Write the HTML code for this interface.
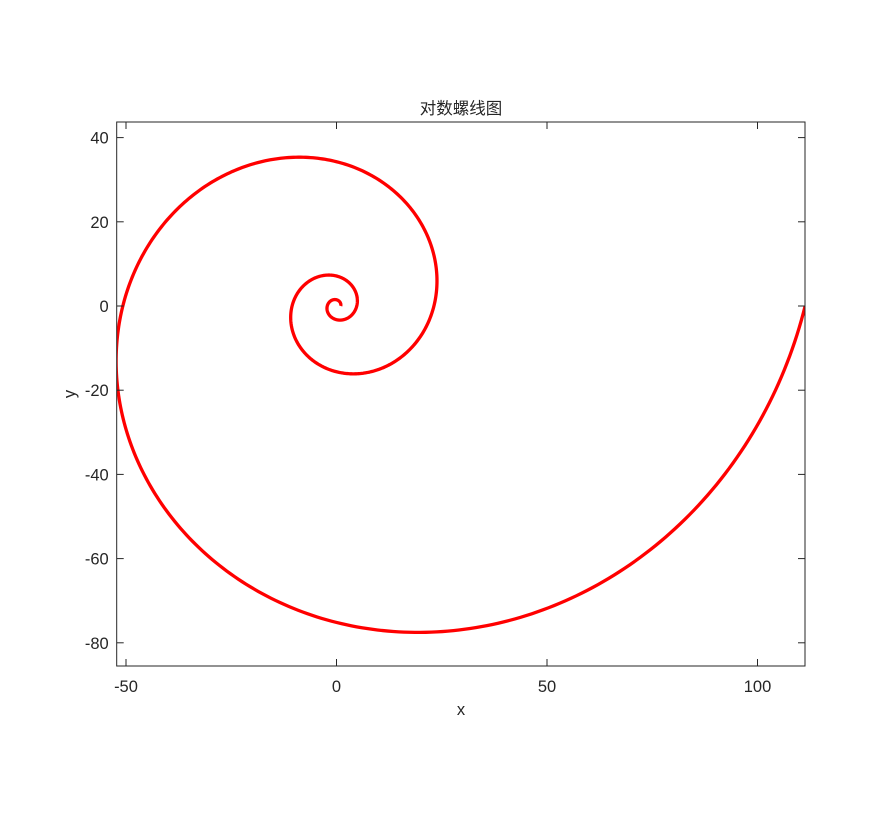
<!DOCTYPE html>
<html><head><meta charset="utf-8"><style>
body{margin:0;background:#fff}
svg text{font-family:"Liberation Sans","Noto Sans CJK SC",sans-serif;fill:#262626}
</style></head><body>
<svg id="chart" width="889" height="818">
<defs><clipPath id="clip"><rect x="116.7" y="122" width="688.8" height="544"/></clipPath></defs>
<rect width="889" height="818" fill="#fff"/>
<g id="g"></g>
</svg>
<script>
const xTicks=[-50,0,50,100];
const yTicks=[-80,-60,-40,-20,0,20,40];
const spiralA=[1];
const spiralB=[0.25];
const thetaRange=[0,6*Math.PI];
const X0=116.7,X1=805,Y0=122,Y1=666;
const sx=v=>336.5+v*4.21;
const sy=v=>306+v*(-4.21);
const NS='http://www.w3.org/2000/svg';
const g=document.getElementById('g');
function mk(t,a){const e=document.createElementNS(NS,t);for(const k in a)e.setAttribute(k,a[k]);g.appendChild(e);return e;}
let pts=[];
for(let i=0;i<=1200;i++){const th=thetaRange[0]+(thetaRange[1]-thetaRange[0])*i/1200;const r=spiralA[0]*Math.exp(spiralB[0]*th);pts.push(sx(r*Math.cos(th)).toFixed(2)+','+sy(r*Math.sin(th)).toFixed(2));}
const line=mk('polyline',{points:pts.join(' '),fill:'none',stroke:'#ff0000','stroke-width':3.3,'stroke-linejoin':'round','clip-path':'url(#clip)'});


const box=mk('rect',{x:X0,y:Y0,width:X1-X0,height:Y1-Y0,fill:'none',stroke:'#262626','stroke-width':1});


xTicks.forEach(v=>{const x=sx(v);
mk('line',{x1:x,x2:x,y1:Y1,y2:Y1-7,stroke:'#262626'});
mk('line',{x1:x,x2:x,y1:Y0,y2:Y0+7,stroke:'#262626'});
const t=mk('text',{x:x,y:Y1+26,'text-anchor':'middle','font-size':16.5});t.textContent=v;

});
yTicks.forEach(v=>{const y=sy(v);
mk('line',{x1:X0,x2:X0+7,y1:y,y2:y,stroke:'#262626'});
mk('line',{x1:X1,x2:X1-7,y1:y,y2:y,stroke:'#262626'});
const t=mk('text',{x:X0-8,y:y+6,'text-anchor':'end','font-size':16.5});t.textContent=v;

});
const tt=mk('text',{x:461,y:114,'text-anchor':'middle','font-size':16.5});tt.textContent='对数螺线图';


const xl=mk('text',{x:461,y:715,'text-anchor':'middle','font-size':16.5});xl.textContent='x';


const yl=mk('text',{x:75,y:394,'text-anchor':'middle','font-size':16.5,transform:'rotate(-90 75 394)'});yl.textContent='y';


</script>
</body></html>
